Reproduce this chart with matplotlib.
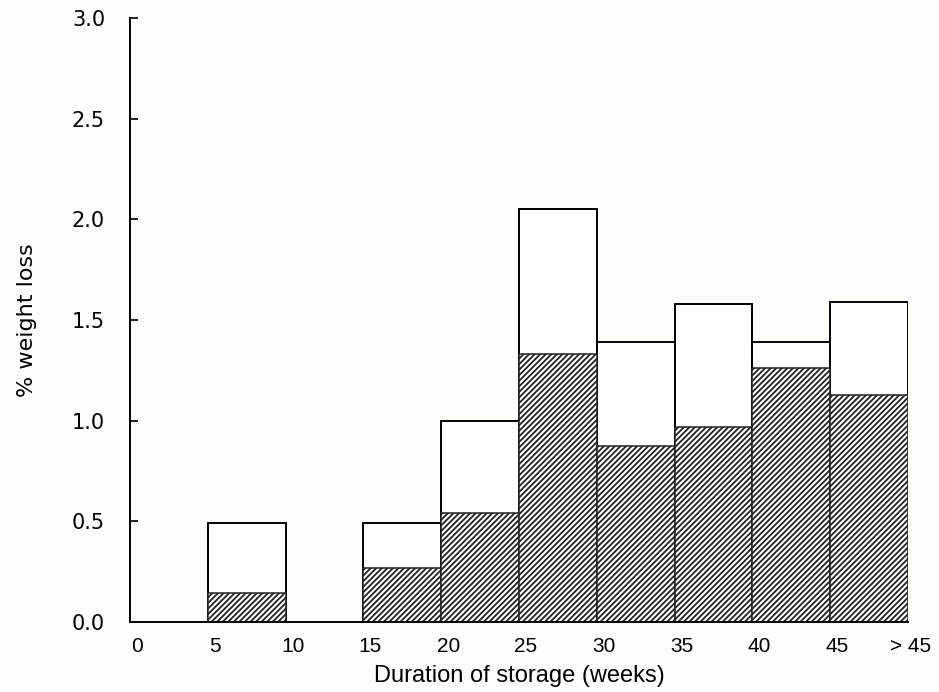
import numpy as np
import matplotlib
matplotlib.use("Agg")
import matplotlib.pyplot as plt
from matplotlib.transforms import ScaledTranslation

# storage duration classes (left edge, weeks) and % weight loss
bin_left = [5, 15, 20, 25, 30, 35, 40, 45]
total_loss = [0.49, 0.49, 1.00, 2.05, 1.39, 1.58, 1.39, 1.59]
hatched_loss = [0.145, 0.27, 0.54, 1.33, 0.875, 0.97, 1.26, 1.13]

tick_pos = [0, 5, 10, 15, 20, 25, 30, 35, 40, 45, 49.7]
tick_labels = ["0", "5", "10", "15", "20", "25", "30", "35", "40", "45", "> 45"]
y_ticks = [0.0, 0.5, 1.0, 1.5, 2.0, 2.5, 3.0]

plt.rcParams['font.family'] = ['Liberation Sans', 'DejaVu Sans']
plt.rcParams['hatch.linewidth'] = 1.3
plt.rcParams['hatch.color'] = '#333333'

bg = '#fdfdfa'
fig = plt.figure(figsize=(9.39, 6.92), dpi=100, facecolor=bg)
ax = fig.add_axes([0.1385, 0.101, 0.8285, 0.873])
ax.set_facecolor(bg)

ax.bar(bin_left, total_loss, width=5, align='edge', facecolor='white',
       edgecolor='black', linewidth=1.4)
ax.bar(bin_left, hatched_loss, width=5, align='edge', facecolor='white',
       edgecolor='#222222', hatch='//////', linewidth=1.1)

ax.set_xlim(0, 50)
ax.set_ylim(0, 3.0)
ax.set_yticks(y_ticks)
ax.set_yticklabels([f"{v:.1f}" for v in y_ticks], fontsize=15, family='DejaVu Sans')
ax.set_xticks(tick_pos)
ax.set_xticklabels(tick_labels, fontsize=15)
ax.tick_params(axis='x', length=0, pad=11)
ax.tick_params(axis='y', direction='in', length=6, width=1.2, pad=18)

# labels in the original sit a little to the right of the class boundaries
shift = ScaledTranslation(7 / 100, 0, fig.dpi_scale_trans)
for lab in ax.get_xticklabels():
    lab.set_transform(lab.get_transform() + shift)

for s in ['top', 'right']:
    ax.spines[s].set_visible(False)
ax.spines['left'].set_linewidth(1.4)
ax.spines['bottom'].set_linewidth(1.4)

ax.set_xlabel("Duration of storage (weeks)", fontsize=17, labelpad=6)
ax.set_ylabel("% weight loss", fontsize=16, family='DejaVu Sans', labelpad=25)

fig.savefig("out.png", dpi=100, facecolor=fig.get_facecolor())
